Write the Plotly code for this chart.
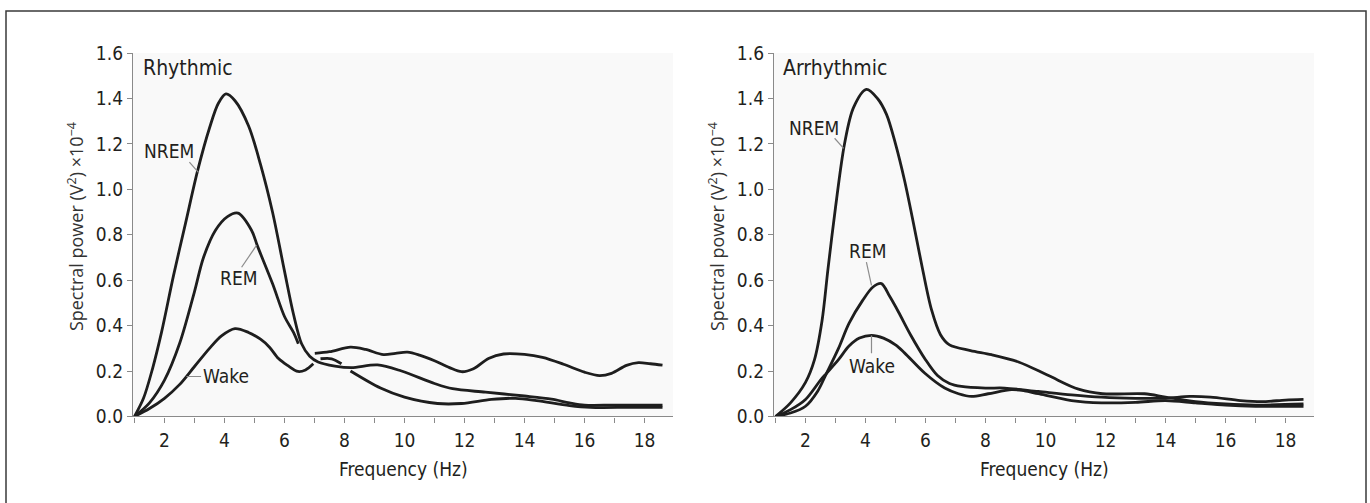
import plotly.graph_objects as go

# ---------------- data: spectral power (x1e-4 V^2) vs frequency (Hz) ----------------
# Rhythmic panel
rhy_nrem_f = [1.0, 1.3, 1.6, 1.9, 2.3, 2.7, 3.1, 3.5, 3.8, 4.05, 4.35, 4.8, 5.2, 5.6, 6.0, 6.3, 6.57,
              6.84, 7.12, 7.68, 8.23, 9.1, 9.9, 11.0, 11.6, 12.7, 14.0, 14.9, 15.5, 16.0, 17.0, 18.6]
rhy_nrem_p = [0.0, 0.08, 0.21, 0.37, 0.62, 0.85, 1.08, 1.27, 1.38, 1.42, 1.39, 1.28, 1.11, 0.90, 0.64, 0.45, 0.32,
              0.265, 0.24, 0.222, 0.215, 0.227, 0.20, 0.145, 0.122, 0.107, 0.09, 0.076, 0.06, 0.05, 0.05, 0.05]

rhy_rem_f = [1.0, 1.5, 2.0, 2.5, 3.0, 3.3, 3.7, 4.1, 4.45, 4.9, 5.1, 5.6, 6.0, 6.3, 6.46, None,
             7.2, 7.57, 7.9, None,
             8.2, 9.2, 10.0, 11.1, 11.9, 12.9, 13.7, 14.4, 15.5, 16.2, 17.5, 18.6]
rhy_rem_p = [0.0, 0.06, 0.16, 0.32, 0.55, 0.70, 0.82, 0.88, 0.895, 0.82, 0.75, 0.585, 0.44, 0.37, 0.32, None,
             0.254, 0.254, 0.232, None,
             0.20, 0.125, 0.085, 0.057, 0.057, 0.075, 0.08, 0.07, 0.048, 0.04, 0.04, 0.04]

rhy_wake_f = [1.0, 1.5, 2.0, 2.5, 3.0, 3.5, 3.9, 4.35, 4.8, 5.2, 5.5, 5.8, 6.1, 6.45, 6.7, 6.96, None,
              7.01, 7.5, 8.2, 8.7, 9.3, 9.7, 10.1, 10.5, 11.0, 11.5, 11.9, 12.3, 12.8, 13.3, 14.0,
              14.6, 15.3, 16.0, 16.5, 16.9, 17.4, 17.8, 18.2, 18.6]
rhy_wake_p = [0.0, 0.035, 0.08, 0.14, 0.22, 0.30, 0.355, 0.387, 0.37, 0.34, 0.305, 0.255, 0.225, 0.198, 0.205, 0.232, None,
              0.278, 0.285, 0.305, 0.295, 0.272, 0.278, 0.283, 0.27, 0.245, 0.215, 0.197, 0.21, 0.255, 0.275, 0.273,
              0.26, 0.23, 0.195, 0.18, 0.19, 0.225, 0.237, 0.232, 0.226]

# Arrhythmic panel
arr_nrem_f = [1.0, 1.5, 2.0, 2.3, 2.55, 2.75, 3.0, 3.3, 3.6, 4.03, 4.4, 4.7, 5.0, 5.3, 5.6, 5.9, 6.2, 6.5, 6.8,
              7.5, 8.2, 9.1, 10.1, 11.1, 11.9, 13.3, 14.0, 15.0, 16.0, 17.0, 18.6]
arr_nrem_p = [0.0, 0.06, 0.15, 0.25, 0.42, 0.65, 0.92, 1.2, 1.36, 1.44, 1.40, 1.33, 1.20, 1.04, 0.85, 0.65, 0.47, 0.36, 0.315,
              0.29, 0.272, 0.24, 0.18, 0.12, 0.10, 0.10, 0.085, 0.065, 0.055, 0.05, 0.055]

arr_rem_f = [1.0, 1.5, 2.0, 2.4, 2.7, 3.1, 3.45, 3.9, 4.25, 4.53, 4.8, 5.1, 5.5, 6.0, 6.4, 6.8, 7.2, 8.0, 8.64,
             9.76, 10.87, 11.87, 13.0, 14.0, 14.8, 15.5, 16.5, 17.2, 18.0, 18.6]
arr_rem_p = [0.0, 0.015, 0.045, 0.11, 0.19, 0.30, 0.41, 0.51, 0.57, 0.585, 0.53, 0.46, 0.36, 0.25, 0.18, 0.145, 0.132, 0.125, 0.125,
             0.11, 0.095, 0.085, 0.08, 0.08, 0.088, 0.085, 0.07, 0.065, 0.072, 0.075]

arr_wake_f = [1.0, 1.5, 2.0, 2.5, 2.7, 3.1, 3.45, 3.8, 4.2, 4.6, 5.0, 5.3, 5.98, 6.64, 7.1, 7.53, 8.09,
              8.87, 9.3, 9.76, 10.87, 11.87, 13.0, 14.0, 15.0, 16.0, 17.0, 18.6]
arr_wake_p = [0.0, 0.03, 0.075, 0.16, 0.19, 0.25, 0.31, 0.345, 0.357, 0.345, 0.315, 0.28, 0.19, 0.125, 0.10, 0.088, 0.10,
              0.118, 0.113, 0.10, 0.07, 0.06, 0.062, 0.07, 0.06, 0.05, 0.045, 0.045]

x_ticks = list(range(1, 19))
x_tick_text = [str(v) if v % 2 == 0 else "" for v in x_ticks]
y_ticks = [0.0, 0.2, 0.4, 0.6, 0.8, 1.0, 1.2, 1.4, 1.6]

panel_titles = ["Rhythmic", "Arrhythmic"]
y_title = "Spectral power (V<sup>2</sup>) ×10<sup>−4</sup>"
x_title = "Frequency (Hz)"

# curve labels: (text, label x, label y, leader start x, y, leader end x, y) in data units
rhy_labels = [("NREM", 2.15, 1.17, 2.83, 1.12, 3.13, 1.075),
              ("REM", 4.48, 0.61, 4.57, 0.657, 5.07, 0.754),
              ("Wake", 4.05, 0.18, 2.73, 0.176, 3.22, 0.176)]
arr_labels = [("NREM", 2.28, 1.27, 2.97, 1.225, 3.27, 1.18),
              ("REM", 4.07, 0.73, 4.03, 0.68, 4.2, 0.577),
              ("Wake", 4.22, 0.22, 4.2, 0.357, 4.2, 0.278)]

# ---------------- styling ----------------
W, H = 1370, 503
INK = "#231f20"
CURVE = "#1e1e1e"
AXIS = "#8a8a8a"
LEADER = "#8c8c8c"
COND = "Liberation Sans Narrow, DejaVu Sans Condensed, Roboto, sans-serif"
WIDE = "Open Sans, DejaVu Sans, sans-serif"


def py(pixel_from_top):
    """Convert a vertical pixel position into a paper fraction."""
    return (H - pixel_from_top) / H


x_dom = [[133 / W, 673 / W], [774 / W, 1314 / W]]
y_dom = [py(424), py(44)]

fig = go.Figure()

panels = [
    ("x", "y", [(rhy_nrem_f, rhy_nrem_p), (rhy_rem_f, rhy_rem_p), (rhy_wake_f, rhy_wake_p)], rhy_labels),
    ("x2", "y2", [(arr_nrem_f, arr_nrem_p), (arr_rem_f, arr_rem_p), (arr_wake_f, arr_wake_p)], arr_labels),
]

for xa, ya, curves, labels in panels:
    for f, p in curves:
        fig.add_trace(go.Scatter(
            x=f, y=p, xaxis=xa, yaxis=ya, mode="lines",
            line=dict(color=CURVE, width=2.8, shape="spline", smoothing=0.9),
            connectgaps=False, showlegend=False, hoverinfo="skip"))
    for text, lx, ly, x0, y0, x1, y1 in labels:
        fig.add_shape(type="line", xref=xa, yref=ya, x0=x0, y0=y0, x1=x1, y1=y1,
                      line=dict(color=LEADER, width=1.2))
        fig.add_annotation(x=lx, y=ly, xref=xa, yref=ya, text=text, showarrow=False,
                           font=dict(family=COND, size=19, color=INK),
                           xanchor="center", yanchor="middle")

axis_common = dict(showgrid=False, zeroline=False, showline=True, linecolor=AXIS, linewidth=1.3,
                   ticks="outside", ticklen=5, tickwidth=1.2, tickcolor=AXIS,
                   tickfont=dict(family=COND, size=19, color=INK))

for i, (xa, ya) in enumerate([("xaxis", "yaxis"), ("xaxis2", "yaxis2")]):
    anchor_y = "y" if i == 0 else "y2"
    anchor_x = "x" if i == 0 else "x2"
    fig.update_layout(**{
        xa: dict(axis_common, domain=x_dom[i], range=[0.95, 18.95], anchor=anchor_y,
                 tickmode="array", tickvals=x_ticks, ticktext=x_tick_text, ticklabelstandoff=2),
        ya: dict(axis_common, domain=y_dom, range=[0, 1.6], anchor=anchor_x,
                 tickmode="array", tickvals=y_ticks, tickformat=".1f"),
    })
    # panel background
    fig.add_shape(type="rect", xref="paper", yref="paper", layer="below",
                  x0=x_dom[i][0], x1=x_dom[i][1], y0=y_dom[0], y1=y_dom[1],
                  line=dict(width=0), fillcolor="#f9f9f9")
    # panel title
    fig.add_annotation(x=1.2, y=1.535, xref=anchor_x, yref=anchor_y, text=panel_titles[i],
                       showarrow=False, xanchor="left", yanchor="middle",
                       font=dict(family=COND, size=21, color=INK))
    # axis titles
    fig.add_annotation(x=(x_dom[i][0] + x_dom[i][1]) / 2, y=py(479), xref="paper", yref="paper",
                       text=x_title, showarrow=False, xanchor="center", yanchor="middle",
                       font=dict(family=COND, size=19, color=INK))
    fig.add_annotation(x=(76 if i == 0 else 717) / W, y=py(226), xref="paper", yref="paper",
                       text=y_title, showarrow=False, textangle=-90, xanchor="center", yanchor="middle",
                       font=dict(family=WIDE, size=18, color="#333333"))

# outer frame
fig.add_shape(type="rect", xref="paper", yref="paper", x0=6 / W, x1=1366 / W, y0=-0.05, y1=py(0),
              line=dict(color="#3a3a3a", width=1.5), fillcolor="rgba(0,0,0,0)")

fig.update_layout(width=W, height=H, margin=dict(l=0, r=0, t=0, b=0),
                  paper_bgcolor="white", plot_bgcolor="rgba(0,0,0,0)")

fig.write_html("out.html")
